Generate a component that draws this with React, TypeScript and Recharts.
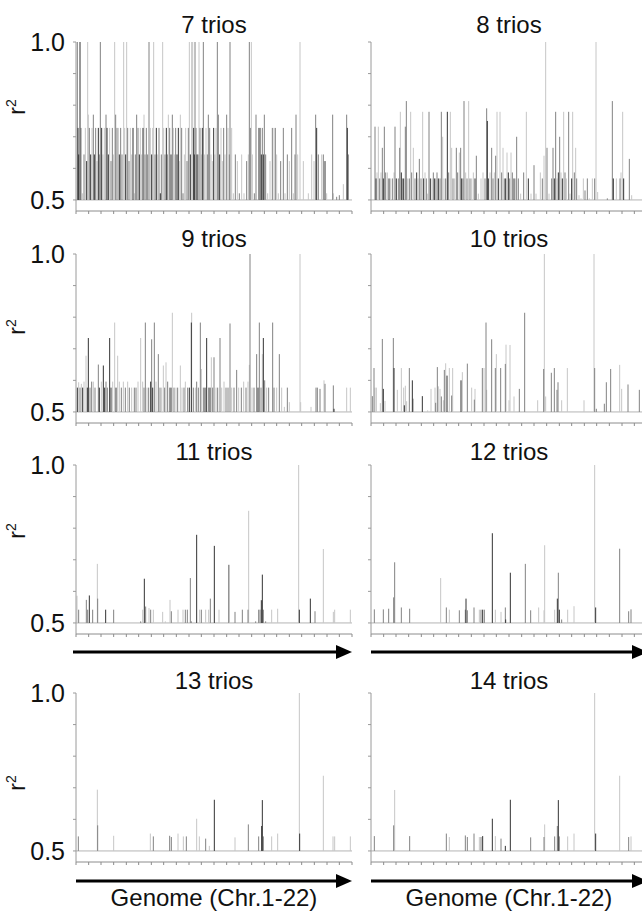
import React from "react";
import { ScatterChart, Scatter, XAxis, YAxis, ErrorBar, ReferenceLine } from "recharts";

// one spike = [genome position (arbitrary units along Chr.1-22), r², shade class 0 dark / 1 mid / 2 light]
type Spike = [number, number, number];

const chrBounds = [0, 38, 75, 113, 151, 188, 226, 263, 301, 339, 376, 414, 452, 489, 527, 565, 602, 640, 677, 715, 753, 790, 828];
const yTicks = [0.5, 0.6, 0.7, 0.8, 0.9, 1.0];
const panelTitles = ["7 trios", "8 trios", "9 trios", "10 trios", "11 trios", "12 trios", "13 trios", "14 trios"];
const axisTitle = "Genome (Chr.1-22)";

const trios7: Spike[] = [
  [4, 1.0, 1], [6, 0.728, 0], [8, 0.644, 0], [12, 1.0, 0], [15, 0.728, 1], [19, 0.521, 2], [24, 0.644, 1], [28, 0.728, 2],
  [32, 0.623, 0], [35, 1.0, 2], [37, 0.77, 2], [40, 0.728, 1], [44, 0.644, 0], [48, 0.728, 2], [52, 0.77, 1], [55, 0.644, 0],
  [59, 0.728, 1], [63, 0.623, 2], [67, 0.728, 0], [70, 0.644, 1], [73, 1.0, 1], [77, 0.728, 0], [81, 0.644, 2], [85, 0.728, 2],
  [90, 0.77, 1], [93, 0.728, 0], [97, 0.644, 0], [101, 0.728, 2], [105, 0.623, 1], [109, 0.728, 1], [112, 0.644, 2], [116, 1.0, 2],
  [119, 0.77, 1], [123, 0.728, 1], [127, 0.728, 2], [130, 0.644, 0], [134, 0.728, 1], [138, 0.644, 1], [143, 1.0, 2], [146, 0.728, 2],
  [149, 0.644, 0], [152, 1.0, 2], [155, 0.728, 1], [159, 0.623, 1], [163, 0.728, 2], [167, 0.644, 2], [171, 0.728, 0], [175, 0.521, 2],
  [178, 0.644, 1], [182, 0.77, 1], [186, 0.728, 1], [190, 0.644, 0], [193, 0.728, 2], [197, 0.644, 2], [201, 0.728, 0], [204, 0.77, 2],
  [207, 0.644, 1], [211, 0.728, 1], [215, 0.644, 1], [219, 1.0, 1], [223, 0.728, 2], [227, 0.644, 0], [230, 0.728, 2], [233, 1.0, 2],
  [237, 0.644, 1], [241, 0.728, 0], [245, 0.644, 2], [249, 0.728, 1], [253, 0.521, 0], [256, 0.644, 1], [260, 1.0, 2], [263, 0.728, 2],
  [267, 0.644, 1], [271, 0.728, 0], [274, 0.644, 1], [277, 0.77, 2], [281, 0.728, 1], [285, 0.644, 0], [289, 0.77, 1], [292, 0.728, 2],
  [296, 0.644, 2], [299, 0.728, 1], [303, 0.644, 0], [307, 0.728, 0], [310, 0.623, 2], [313, 0.77, 2], [317, 0.728, 1], [321, 0.521, 1],
  [325, 0.644, 2], [329, 0.728, 2], [333, 0.623, 1], [337, 0.728, 1], [340, 1.0, 2], [343, 0.644, 0], [347, 1.0, 2], [350, 1.0, 2],
  [353, 0.728, 0], [355, 0.644, 0], [357, 1.0, 1], [360, 0.728, 1], [363, 0.644, 0], [366, 0.644, 1], [369, 1.0, 2], [372, 0.728, 1],
  [376, 0.644, 2], [379, 0.728, 0], [382, 1.0, 1], [386, 0.644, 2], [390, 0.728, 2], [394, 0.644, 1], [397, 0.77, 1], [401, 0.728, 1],
  [405, 0.644, 2], [409, 0.623, 2], [413, 0.728, 0], [417, 0.644, 2], [420, 0.728, 2], [424, 1.0, 1], [427, 0.77, 1], [431, 0.644, 0],
  [435, 0.728, 2], [439, 0.623, 2], [443, 0.728, 1], [447, 0.644, 2], [452, 0.77, 1], [456, 0.728, 2], [460, 0.644, 1], [462, 1.0, 1],
  [467, 0.728, 2], [472, 0.521, 2], [478, 0.644, 1], [484, 0.623, 2], [490, 0.521, 1], [497, 0.644, 2], [504, 0.521, 2], [512, 0.623, 1],
  [517, 0.644, 2], [520, 1.0, 1], [523, 0.728, 1], [526, 1.0, 2], [529, 0.644, 2], [535, 0.521, 1], [540, 0.77, 1], [548, 0.728, 1],
  [552, 0.728, 0], [556, 0.644, 0], [559, 0.728, 1], [562, 0.644, 0], [565, 0.77, 1], [569, 0.644, 1], [575, 0.521, 2], [582, 0.623, 2],
  [589, 0.728, 1], [594, 0.728, 2], [598, 0.728, 1], [602, 0.644, 2], [607, 0.521, 2], [614, 0.623, 1], [622, 0.728, 1], [627, 0.521, 2],
  [634, 0.644, 1], [640, 0.623, 2], [647, 0.728, 1], [652, 0.521, 2], [657, 0.644, 1], [660, 0.77, 1], [665, 0.644, 2], [672, 1.0, 2],
  [682, 0.623, 2], [697, 0.521, 2], [707, 0.644, 2], [714, 0.623, 2], [719, 0.77, 1], [722, 0.728, 0], [727, 0.644, 1], [737, 0.644, 2],
  [742, 0.644, 1], [747, 0.623, 0], [752, 0.521, 2], [770, 0.77, 1], [772, 0.521, 2], [782, 0.51, 1], [790, 0.515, 1], [802, 0.55, 2],
  [812, 0.77, 1], [814, 0.728, 0], [817, 0.644, 1],
];

const trios8: Spike[] = [
  [12, 0.732, 1], [15, 0.568, 0], [18, 0.587, 2], [22, 0.732, 2], [26, 0.568, 1], [30, 0.587, 2], [34, 0.665, 1], [37, 0.568, 0],
  [40, 0.732, 1], [44, 0.587, 1], [49, 0.587, 2], [54, 0.568, 0], [58, 0.568, 2], [64, 0.568, 1], [69, 0.587, 2], [72, 0.732, 1],
  [76, 0.568, 0], [82, 0.568, 1], [86, 0.665, 1], [88, 0.779, 2], [91, 0.587, 0], [94, 0.568, 1], [98, 0.568, 0], [103, 0.732, 1],
  [106, 0.813, 1], [110, 0.568, 2], [115, 0.568, 1], [119, 0.779, 2], [122, 0.587, 1], [127, 0.665, 2], [132, 0.568, 1], [137, 0.587, 0],
  [141, 0.568, 2], [145, 0.63, 1], [150, 0.568, 1], [155, 0.779, 2], [158, 0.568, 0], [162, 0.587, 2], [166, 0.568, 1], [170, 0.52, 2],
  [174, 0.779, 1], [178, 0.568, 0], [183, 0.568, 2], [187, 0.587, 1], [191, 0.568, 0], [194, 0.568, 2], [198, 0.587, 1], [202, 0.568, 0],
  [207, 0.568, 1], [211, 0.779, 1], [215, 0.7, 2], [219, 0.568, 2], [224, 0.568, 1], [229, 0.779, 0], [233, 0.587, 1], [238, 0.779, 2],
  [242, 0.665, 2], [246, 0.568, 1], [251, 0.568, 2], [256, 0.665, 1], [260, 0.587, 1], [265, 0.65, 2], [269, 0.665, 1], [272, 0.568, 0],
  [276, 0.568, 1], [279, 0.813, 1], [284, 0.587, 2], [288, 0.568, 1], [293, 0.813, 2], [297, 0.568, 1], [302, 0.568, 2], [307, 0.587, 2],
  [312, 0.568, 0], [316, 0.64, 1], [322, 0.52, 2], [330, 0.568, 2], [336, 0.587, 2], [342, 0.568, 1], [347, 0.79, 1], [349, 0.75, 0],
  [352, 0.568, 0], [357, 0.587, 2], [362, 0.665, 1], [366, 0.568, 1], [370, 0.587, 2], [374, 0.64, 1], [378, 0.779, 2], [382, 0.568, 0],
  [387, 0.779, 2], [392, 0.587, 1], [396, 0.665, 2], [400, 0.568, 1], [404, 0.568, 0], [408, 0.65, 2], [412, 0.587, 0], [416, 0.568, 1],
  [420, 0.65, 2], [424, 0.587, 1], [429, 0.568, 0], [433, 0.568, 2], [437, 0.7, 1], [442, 0.568, 1], [449, 0.52, 2], [458, 0.587, 1],
  [466, 0.779, 2], [472, 0.568, 0], [480, 0.52, 2], [489, 0.61, 1], [495, 0.52, 2], [508, 0.587, 2], [514, 0.568, 1], [519, 0.64, 2],
  [524, 1.0, 2], [528, 0.665, 1], [534, 0.52, 2], [542, 0.568, 1], [546, 0.665, 1], [550, 0.568, 0], [554, 0.779, 1], [558, 0.568, 2],
  [562, 0.587, 0], [566, 0.7, 1], [570, 0.587, 2], [574, 0.568, 0], [578, 0.779, 2], [582, 0.587, 1], [586, 0.568, 2], [593, 0.779, 1],
  [597, 0.52, 2], [602, 0.568, 0], [605, 0.779, 2], [610, 0.587, 1], [614, 0.665, 2], [617, 0.568, 1], [624, 0.515, 2], [630, 0.505, 2],
  [637, 0.568, 2], [642, 0.53, 1], [649, 0.568, 1], [655, 0.505, 2], [664, 0.568, 2], [671, 0.568, 1], [675, 1.0, 2], [680, 0.525, 2],
  [709, 0.505, 1], [724, 0.813, 1], [727, 0.568, 0], [736, 0.568, 2], [747, 0.568, 1], [750, 0.587, 2], [755, 0.779, 2], [758, 0.568, 0],
  [775, 0.63, 1], [782, 0.515, 2],
];

const trios9: Spike[] = [
  [4, 0.577, 0], [8, 0.594, 2], [12, 0.577, 1], [16, 0.589, 2], [20, 0.577, 0], [24, 0.596, 2], [30, 0.678, 2], [34, 0.577, 0],
  [37, 0.734, 0], [42, 0.577, 1], [47, 0.596, 1], [52, 0.596, 2], [57, 0.577, 1], [67, 0.65, 1], [70, 0.577, 0], [76, 0.596, 2],
  [82, 0.647, 0], [86, 0.577, 0], [90, 0.596, 1], [94, 0.577, 1], [101, 0.734, 0], [105, 0.577, 0], [110, 0.596, 2], [116, 0.783, 2],
  [120, 0.577, 0], [125, 0.678, 2], [130, 0.596, 2], [136, 0.577, 1], [142, 0.596, 2], [148, 0.577, 1], [155, 0.596, 2], [160, 0.577, 1],
  [167, 0.577, 2], [175, 0.577, 1], [180, 0.577, 1], [186, 0.596, 2], [194, 0.734, 2], [200, 0.596, 2], [204, 0.577, 1], [208, 0.783, 1],
  [213, 0.577, 2], [218, 0.577, 1], [224, 0.596, 0], [227, 0.73, 1], [230, 0.577, 0], [235, 0.783, 1], [240, 0.596, 2], [247, 0.683, 1],
  [252, 0.577, 1], [257, 0.577, 2], [262, 0.647, 2], [266, 0.577, 1], [270, 0.657, 2], [275, 0.596, 1], [282, 0.577, 0], [286, 0.577, 1],
  [289, 0.814, 2], [294, 0.577, 1], [300, 0.577, 2], [305, 0.577, 1], [313, 0.647, 2], [318, 0.577, 2], [324, 0.577, 1], [328, 0.596, 2],
  [335, 0.577, 1], [340, 0.577, 0], [347, 0.814, 2], [346, 0.783, 0], [352, 0.577, 1], [358, 0.577, 2], [362, 0.596, 1], [367, 0.577, 1],
  [373, 0.783, 1], [376, 0.636, 2], [382, 0.577, 1], [387, 0.577, 0], [392, 0.734, 0], [398, 0.577, 1], [402, 0.577, 0], [406, 0.673, 2],
  [410, 0.577, 1], [414, 0.673, 1], [420, 0.577, 2], [425, 0.577, 1], [432, 0.734, 1], [437, 0.577, 2], [444, 0.596, 2], [450, 0.577, 1],
  [456, 0.577, 1], [462, 0.78, 1], [467, 0.577, 2], [474, 0.577, 1], [482, 0.633, 1], [488, 0.577, 2], [496, 0.577, 1], [503, 0.596, 2],
  [510, 0.577, 1], [516, 0.596, 2], [520, 0.649, 2], [522, 1.0, 1], [528, 0.577, 2], [534, 0.577, 1], [542, 0.683, 1], [546, 0.577, 0],
  [550, 0.783, 1], [555, 0.577, 1], [559, 0.683, 2], [562, 0.734, 0], [566, 0.6, 1], [572, 0.577, 2], [578, 0.577, 1], [590, 0.783, 1],
  [594, 0.577, 1], [602, 0.577, 2], [610, 0.683, 1], [617, 0.577, 2], [625, 0.516, 2], [634, 0.577, 1], [640, 0.531, 2], [672, 1.0, 2],
  [674, 0.531, 2], [705, 0.516, 2], [720, 0.577, 1], [724, 0.577, 1], [732, 0.573, 1], [744, 0.6, 2], [747, 0.589, 1], [772, 0.584, 1],
  [774, 0.51, 0], [812, 0.577, 2], [823, 0.577, 2],
];

const trios10: Spike[] = [
  [4, 0.55, 1], [9, 0.639, 1], [12, 0.577, 2], [16, 0.577, 2], [28, 0.528, 2], [34, 0.731, 1], [37, 0.573, 0], [42, 0.535, 2],
  [67, 0.734, 1], [69, 0.639, 0], [79, 0.57, 2], [91, 0.639, 2], [98, 0.577, 2], [100, 0.521, 0], [103, 0.583, 2], [107, 0.534, 2],
  [115, 0.639, 1], [124, 0.6, 0], [126, 0.542, 1], [154, 0.55, 0], [170, 0.505, 2], [180, 0.573, 2], [192, 0.577, 2], [194, 0.529, 1],
  [199, 0.642, 1], [202, 0.581, 2], [207, 0.573, 2], [211, 0.549, 1], [217, 0.537, 2], [220, 0.633, 1], [224, 0.654, 2], [228, 0.615, 0],
  [235, 0.639, 2], [242, 0.552, 1], [245, 0.639, 2], [270, 0.6, 0], [274, 0.626, 2], [289, 0.653, 1], [302, 0.577, 2], [310, 0.539, 1],
  [312, 0.573, 2], [334, 0.639, 1], [339, 0.639, 2], [345, 0.783, 1], [347, 0.57, 2], [362, 0.73, 1], [373, 0.639, 1], [376, 0.683, 2],
  [389, 0.639, 1], [403, 0.652, 1], [405, 0.713, 2], [414, 0.537, 2], [417, 0.712, 2], [429, 0.549, 2], [445, 0.573, 1], [461, 0.814, 1],
  [500, 0.537, 2], [518, 0.636, 1], [520, 1.0, 2], [524, 0.549, 2], [541, 0.624, 1], [550, 0.639, 1], [558, 0.57, 1], [561, 0.594, 1],
  [572, 0.537, 2], [589, 0.639, 2], [639, 0.537, 2], [669, 1.0, 2], [671, 0.639, 1], [676, 0.51, 1], [700, 0.526, 1], [706, 0.594, 1],
  [719, 0.636, 1], [746, 0.649, 2], [752, 0.573, 2], [771, 0.587, 1], [805, 0.57, 1],
];

const trios11: Spike[] = [
  [3, 0.586, 2], [8, 0.542, 1], [31, 0.573, 1], [35, 0.542, 1], [40, 0.587, 0], [50, 0.542, 1], [64, 0.687, 2], [65, 0.577, 1],
  [89, 0.542, 0], [113, 0.542, 1], [194, 0.505, 1], [200, 0.542, 2], [205, 0.64, 0], [209, 0.552, 1], [219, 0.547, 2], [224, 0.542, 1],
  [232, 0.542, 2], [260, 0.535, 2], [268, 0.505, 2], [282, 0.573, 2], [286, 0.537, 1], [306, 0.542, 2], [321, 0.542, 2], [328, 0.542, 1],
  [334, 0.542, 1], [343, 0.642, 1], [346, 0.505, 1], [362, 0.779, 0], [371, 0.542, 2], [376, 0.542, 1], [389, 0.542, 2], [398, 0.542, 2],
  [403, 0.577, 1], [415, 0.744, 0], [429, 0.542, 2], [458, 0.684, 1], [460, 0.684, 2], [477, 0.535, 1], [499, 0.542, 1], [516, 0.542, 1],
  [518, 0.855, 2], [539, 0.505, 1], [548, 0.542, 1], [552, 0.542, 1], [556, 0.572, 0], [559, 0.653, 0], [562, 0.542, 1], [569, 0.505, 1],
  [587, 0.542, 2], [605, 0.545, 2], [668, 1.0, 2], [670, 0.542, 0], [703, 0.577, 0], [717, 0.537, 1], [742, 0.734, 2], [772, 0.535, 2],
  [776, 0.542, 2], [823, 0.542, 2],
];

const trios12: Spike[] = [
  [10, 0.543, 1], [37, 0.543, 1], [53, 0.545, 1], [68, 0.581, 1], [71, 0.692, 1], [91, 0.549, 1], [116, 0.545, 1], [209, 0.642, 2],
  [226, 0.549, 1], [235, 0.542, 2], [265, 0.54, 1], [283, 0.542, 1], [285, 0.577, 0], [289, 0.54, 1], [309, 0.549, 1], [325, 0.542, 2],
  [330, 0.542, 1], [335, 0.542, 0], [340, 0.542, 1], [364, 0.784, 0], [373, 0.542, 2], [390, 0.535, 2], [403, 0.549, 1], [404, 0.511, 0],
  [418, 0.659, 0], [463, 0.687, 1], [479, 0.54, 1], [503, 0.549, 2], [519, 0.54, 2], [521, 0.746, 2], [551, 0.542, 2], [559, 0.577, 0],
  [562, 0.659, 1], [565, 0.542, 0], [572, 0.511, 1], [590, 0.542, 2], [609, 0.553, 2], [671, 1.0, 2], [674, 0.549, 0], [746, 0.735, 1],
  [773, 0.537, 1], [780, 0.543, 1],
];

const trios13: Spike[] = [
  [7, 0.546, 1], [64, 0.694, 2], [65, 0.581, 1], [113, 0.548, 2], [223, 0.555, 2], [232, 0.546, 1], [281, 0.548, 1], [286, 0.544, 1],
  [306, 0.555, 2], [322, 0.546, 2], [331, 0.546, 1], [362, 0.602, 2], [370, 0.546, 2], [389, 0.539, 1], [400, 0.516, 2], [415, 0.662, 0],
  [477, 0.543, 2], [517, 0.584, 1], [548, 0.546, 1], [557, 0.579, 0], [559, 0.661, 0], [562, 0.546, 1], [587, 0.546, 2], [605, 0.555, 2],
  [670, 1.0, 2], [671, 0.555, 0], [742, 0.738, 2], [771, 0.546, 2], [776, 0.546, 2], [823, 0.546, 2],
];

const trios14: Spike[] = [
  [10, 0.547, 1], [68, 0.581, 1], [71, 0.693, 2], [116, 0.547, 1], [226, 0.555, 1], [235, 0.544, 2], [283, 0.549, 1], [289, 0.544, 1],
  [309, 0.555, 1], [325, 0.544, 2], [330, 0.544, 1], [335, 0.547, 0], [364, 0.602, 0], [373, 0.547, 2], [390, 0.539, 1], [403, 0.516, 0],
  [418, 0.662, 0], [479, 0.543, 1], [519, 0.544, 1], [521, 0.584, 2], [551, 0.546, 1], [559, 0.579, 1], [562, 0.661, 0], [565, 0.546, 1],
  [590, 0.546, 2], [609, 0.555, 2], [671, 1.0, 2], [674, 0.555, 0], [746, 0.738, 2], [773, 0.544, 1], [780, 0.546, 2],
];

const panelData = [trios7, trios8, trios9, trios10, trios11, trios12, trios13, trios14];

const FONT = "'Liberation Sans', Arial, sans-serif";
const shadeColors = ["#333333", "#828282", "#c6c6c6"];
const plotTops = [42, 254, 465, 693];
const titleBaselines = [33, 247, 460, 689];
const r2Centers = [107, 327, 531, 783];
const PLOT_H = 169;
const MARGIN_TOP = 22;

const NoDot = () => <g />;
const NoLabel = () => <g />;

const YTick = (props: any) => {
  const { x, y, payload } = props;
  const v = payload.value;
  if (v !== 0.5 && v !== 1) return <g />;
  return (
    <text x={x} y={y} dy="0.36em" textAnchor="end" fontSize={25} fontFamily={FONT} fill="#111">
      {v === 1 ? "1.0" : "0.5"}
    </text>
  );
};

function Panel({ data, left, top, labels }: { data: Spike[]; left: number; top: number; labels: boolean }) {
  const width = labels ? 360 : 300;
  const axisW = labels ? 76 : 16;
  // light first, dark on top
  const order = [2, 1, 0];
  const series = order.map((g) =>
    data.filter((d) => d[2] === g).map(([pos, r]) => ({ pos, r, err: [r - 0.5, 0] }))
  );

  return (
    <div style={{ position: "absolute", left, top }}>
      <ScatterChart width={width} height={MARGIN_TOP + PLOT_H + 8} margin={{ top: MARGIN_TOP, right: 8, bottom: 0, left: 0 }}>
        <XAxis
          type="number"
          dataKey="pos"
          domain={[0, 828]}
          ticks={chrBounds}
          interval={0}
          tick={NoLabel}
          tickSize={3}
          height={8}
          stroke="#8c8c8c"
          allowDataOverflow
        />
        <YAxis
          type="number"
          dataKey="r"
          domain={[0.465, 1]}
          ticks={yTicks}
          interval={0}
          width={axisW}
          tickSize={3}
          tickMargin={8}
          tick={labels ? YTick : NoLabel}
          stroke="#9a9a9a"
          allowDataOverflow
        />
        <ReferenceLine y={0.5} stroke="#b4b4b4" />
        {series.map((s, i) => (
          <Scatter key={i} data={s} shape={NoDot} isAnimationActive={false}>
            <ErrorBar dataKey="err" direction="y" width={0} stroke={shadeColors[order[i]]} strokeWidth={1} isAnimationActive={false} />
          </Scatter>
        ))}
      </ScatterChart>
    </div>
  );
}

function Arrow({ x1, x2, y }: { x1: number; x2: number; y: number }) {
  return (
    <g>
      <line x1={x1} y1={y} x2={x2 - 12} y2={y} stroke="#000" strokeWidth={3} />
      <polygon points={`${x2 - 16},${y - 7} ${x2},${y} ${x2 - 16},${y + 7}`} fill="#000" />
    </g>
  );
}

export default function App() {
  const leftCenter = 214;
  const rightCenter = 509;
  return (
    <div style={{ position: "absolute", left: 0, top: 0, width: 642, height: 918, overflow: "hidden", background: "#fff" }}>
      {plotTops.map((pt, row) => (
        <React.Fragment key={row}>
          <Panel data={panelData[row * 2]} left={0} top={pt - MARGIN_TOP} labels={true} />
          <Panel data={panelData[row * 2 + 1]} left={355} top={pt - MARGIN_TOP} labels={false} />
        </React.Fragment>
      ))}
      <svg width={642} height={918} style={{ position: "absolute", left: 0, top: 0, pointerEvents: "none" }}>
        {titleBaselines.map((b, row) => (
          <React.Fragment key={row}>
            <text x={leftCenter} y={b} textAnchor="middle" fontSize={24} fontFamily={FONT} fill="#111">
              {panelTitles[row * 2]}
            </text>
            <text x={rightCenter} y={b} textAnchor="middle" fontSize={24} fontFamily={FONT} fill="#111">
              {panelTitles[row * 2 + 1]}
            </text>
          </React.Fragment>
        ))}
        {r2Centers.map((c, row) => (
          <text key={row} transform={`translate(25,${c}) rotate(-90)`} textAnchor="middle" fontSize={23} fontFamily={FONT} fill="#111">
            r<tspan dy={-9} fontSize={14}>2</tspan>
          </text>
        ))}
        <Arrow x1={73} x2={352} y={652} />
        <Arrow x1={371} x2={648} y={652} />
        <Arrow x1={76} x2={352} y={881} />
        <Arrow x1={371} x2={648} y={881} />
        <text x={leftCenter} y={906} textAnchor="middle" fontSize={24} fontFamily={FONT} fill="#111">
          {axisTitle}
        </text>
        <text x={rightCenter} y={906} textAnchor="middle" fontSize={24} fontFamily={FONT} fill="#111">
          {axisTitle}
        </text>
      </svg>
    </div>
  );
}
